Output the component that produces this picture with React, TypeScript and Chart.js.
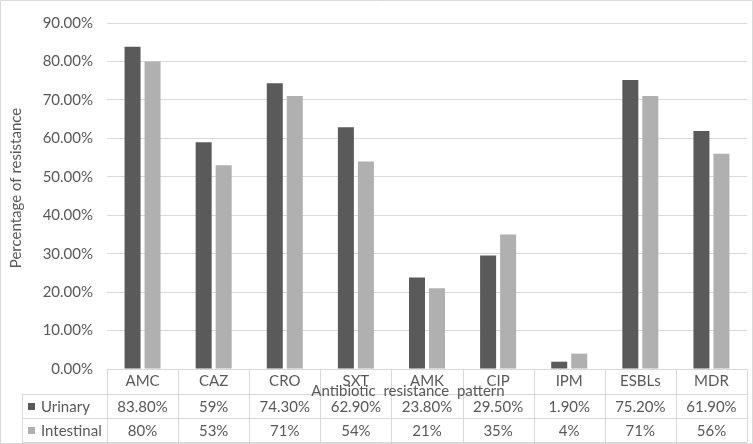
import React, { useEffect, useRef } from "react";
import { Chart, registerables } from "chart.js";

Chart.register(...registerables);

const categories = ["AMC", "CAZ", "CRO", "SXT", "AMK", "CIP", "IPM", "ESBLs", "MDR"];
const urinary = [83.8, 59, 74.3, 62.9, 23.8, 29.5, 1.9, 75.2, 61.9];
const intestinal = [80, 53, 71, 54, 21, 35, 4, 71, 56];
const urinaryLabels = ["83.80%", "59%", "74.30%", "62.90%", "23.80%", "29.50%", "1.90%", "75.20%", "61.90%"];
const intestinalLabels = ["80%", "53%", "71%", "54%", "21%", "35%", "4%", "71%", "56%"];
const seriesNames = ["Urinary", "Intestinal"];
const yTitle = "Percentage of resistance";
const xTitle = "Antibiotic  resistance  pattern";

const DARK = "#5a5a5a";
const LIGHT = "#b0b0b0";
const GRID = "#d9d9d9";
const TEXT = "#595959";
const FONT = "Lato";
const FS = 15;

const tablePlugin = {
  id: "dataTable",
  afterDraw(chart: any) {
    const ctx = chart.ctx as CanvasRenderingContext2D;
    const area = chart.chartArea;
    const x = chart.scales.x;
    const n = categories.length;
    const cw = (area.right - area.left) / n;
    const top = area.bottom;
    const r1 = top + 25;
    const r2 = r1 + 24;
    const r3 = r2 + 24;
    const legLeft = 22;
    ctx.save();
    ctx.strokeStyle = GRID;
    ctx.lineWidth = 1;
    ctx.beginPath();
    ctx.moveTo(area.left, top + 0.5);
    ctx.lineTo(area.right, top + 0.5);
    [r1, r2, r3].forEach((y) => {
      ctx.moveTo(legLeft, y + 0.5);
      ctx.lineTo(area.right, y + 0.5);
    });
    for (let i = 0; i <= n; i++) {
      const xx = Math.round(area.left + i * cw) + 0.5;
      ctx.moveTo(xx, top);
      ctx.lineTo(xx, r3);
    }
    ctx.moveTo(legLeft + 0.5, r1);
    ctx.lineTo(legLeft + 0.5, r3);
    ctx.rect(0.5, 0.5, chart.width - 1, chart.height - 1);
    ctx.stroke();

    ctx.fillStyle = TEXT;
    ctx.font = `${FS}px ${FONT}`;
    ctx.textAlign = "center";
    ctx.textBaseline = "middle";
    categories.forEach((c, i) => {
      const cx = x.getPixelForValue(i);
      ctx.fillText(c, cx, (top + r1) / 2);
      ctx.fillText(urinaryLabels[i], cx, (r1 + r2) / 2 + 1);
      ctx.fillText(intestinalLabels[i], cx, (r2 + r3) / 2 + 1);
    });
    ctx.textAlign = "left";
    ctx.fillStyle = DARK;
    ctx.fillRect(28, (r1 + r2) / 2 - 3, 7, 7);
    ctx.fillStyle = LIGHT;
    ctx.fillRect(28, (r2 + r3) / 2 - 3, 7, 7);
    ctx.fillStyle = TEXT;
    ctx.fillText(seriesNames[0], 41, (r1 + r2) / 2 + 1);
    ctx.fillText(seriesNames[1], 41, (r2 + r3) / 2 + 1);

    ctx.textAlign = "center";
    ctx.fillText(xTitle, 408, top + 22);

    ctx.save();
    ctx.translate(16, 188);
    ctx.rotate(-Math.PI / 2);
    ctx.fillText(yTitle, 0, 0);
    ctx.restore();
    ctx.restore();
  },
};

export default function App() {
  const ref = useRef<HTMLCanvasElement>(null);
  useEffect(() => {
    if (!ref.current) return;
    const chart = new Chart(ref.current, {
      type: "bar",
      data: {
        labels: categories,
        datasets: [
          { label: seriesNames[0], data: urinary, backgroundColor: DARK },
          { label: seriesNames[1], data: intestinal, backgroundColor: LIGHT },
        ],
      },
      options: {
        responsive: false,
        animation: false,
        devicePixelRatio: 1,
        layout: { padding: { top: 10, right: 6, bottom: 75, left: 0 } },
        datasets: { bar: { categoryPercentage: 0.5626, barPercentage: 0.8 } },
        plugins: { legend: { display: false }, tooltip: { enabled: false } },
        scales: {
          x: { display: false },
          y: {
            min: 0,
            max: 90,
            ticks: {
              stepSize: 10,
              padding: 14,
              color: TEXT,
              font: { family: FONT, size: FS },
              callback: (v: any) => Number(v).toFixed(2) + "%",
            },
            grid: { color: GRID, drawTicks: false },
            border: { display: false },
            afterFit: (s: any) => {
              s.width = 107;
            },
          },
        },
      },
      plugins: [tablePlugin],
    });
    return () => chart.destroy();
  }, []);
  return (
    <div style={{ position: "absolute", left: 0, top: 0, width: 753, height: 444, background: "#fff" }}>
      <canvas ref={ref} width={753} height={444} />
    </div>
  );
}
